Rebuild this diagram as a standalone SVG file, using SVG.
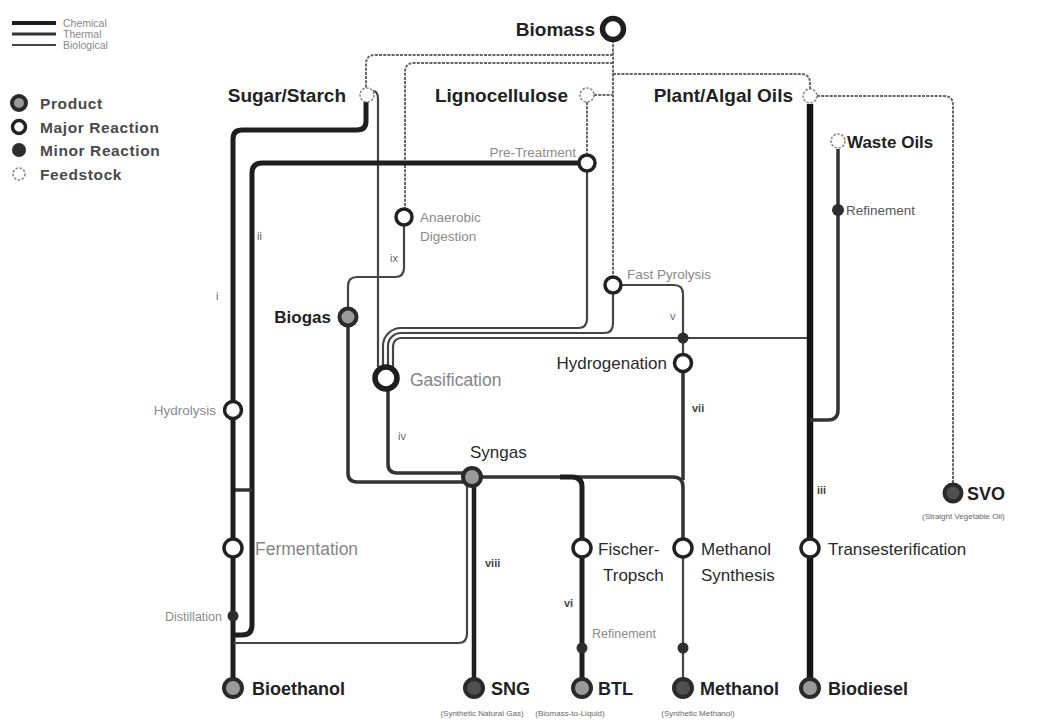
<svg xmlns="http://www.w3.org/2000/svg" width="1042" height="720" viewBox="0 0 1042 720">
  <style>
    text { font-family: "Liberation Sans", Arial, sans-serif; }
    .chem { fill: none; stroke: #1e1e1e; stroke-width: 5; stroke-linecap: butt; }
    .chem-xl { fill: none; stroke: #151515; stroke-width: 6.5; }
    .therm { fill: none; stroke: #333; stroke-width: 3.5; }
    .thin { fill: none; stroke: #444; stroke-width: 2.2; }
    .feed { fill: none; stroke: #666; stroke-width: 2; stroke-dasharray: 3 1.2; }
    .prod { fill: #9a9a9a; stroke: #2a2a2a; stroke-width: 4; }
    .prod-dk { fill: #505050; stroke: #2a2a2a; stroke-width: 4; }
    .major { fill: #fff; stroke: #222; stroke-width: 3.5; }
    .minor { fill: #2e2e2e; }
    .stock { fill: #fff; stroke: #8a8a8a; stroke-width: 1.6; stroke-dasharray: 2.5 1.5; }
    .big { fill: #fff; stroke: #1e1e1e; stroke-width: 5.5; }
    .lbl-b { font-size: 19px; font-weight: bold; fill: #222; }
    .lbl-p { font-size: 18px; font-weight: bold; fill: #222; }
    .rx { font-size: 17px; fill: #2a2a2a; }
    .rx-lt { font-size: 17.5px; fill: #858585; }
    .sm { font-size: 13.5px; fill: #8a8a8a; }
    .sm-dk { font-size: 13.5px; fill: #555; }
    .num { font-size: 11px; fill: #666; }
    .num-b { font-size: 11px; font-weight: bold; fill: #444; }
    .note { font-size: 8px; fill: #666; }
    .leg-line { font-size: 10.5px; fill: #888; }
    .leg { font-size: 15.5px; font-weight: bold; fill: #4a4a4a; letter-spacing: 0.6px; }
  </style>

  <!-- Legend -->
  <g id="legend">
    <line x1="12" y1="23" x2="56" y2="23" stroke="#1e1e1e" stroke-width="4"/>
    <line x1="12" y1="34" x2="56" y2="34" stroke="#333" stroke-width="3"/>
    <line x1="12" y1="45" x2="56" y2="45" stroke="#444" stroke-width="2.2"/>
    <text class="leg-line" x="63" y="27">Chemical</text>
    <text class="leg-line" x="63" y="38">Thermal</text>
    <text class="leg-line" x="63" y="49">Biological</text>
    <circle class="prod" cx="19" cy="103" r="7"/>
    <circle class="major" cx="19" cy="127" r="6.5"/>
    <circle class="minor" cx="19" cy="150" r="7"/>
    <circle class="stock" cx="19" cy="174" r="6"/>
    <text class="leg" x="40" y="109">Product</text>
    <text class="leg" x="40" y="133">Major Reaction</text>
    <text class="leg" x="40" y="156">Minor Reaction</text>
    <text class="leg" x="40" y="180">Feedstock</text>
  </g>

  <!-- Connectors -->
  <g id="connectors">
    <!-- feedstock supply from Biomass -->
    <path class="feed" d="M613 40 V277"/>
    <path class="feed" d="M613 55 H375 Q366 55 366 64 V88"/>
    <path class="feed" d="M613 63 H414 Q405 63 405 72 V209"/>
    <path class="feed" d="M613 74 H801 Q810 74 810 83 V89"/>
    <path class="feed" d="M594 95 H613"/>
    <path class="feed" d="M817 96 H944 Q953 96 953 105 V485"/>
    <path class="feed" d="M587 102 V155"/>

    <!-- Sugar/Starch routes -->
    <path class="chem" d="M366 102 V121 Q366 130 357 130 H242 Q233 130 233 139 V401"/>
    <path class="thin" d="M373 91 Q378 91 378 99 V367"/>

    <!-- Pre-Treatment to fermentation (ii) -->
    <path class="chem" d="M578 163 H262 Q252 163 252 173 V625 Q252 635 242 635 H233"/>
    <path class="therm" d="M233 490 H252"/>

    <!-- Hydrolysis / Fermentation / Distillation to Bioethanol -->
    <path class="chem" d="M233 419 V679"/>

    <!-- lines into Gasification -->
    <path class="thin" d="M587 171 V319 Q587 328 578 328 H401 A18 18 0 0 0 383 346 V367"/>
    <path class="thin" d="M613 293 V324 Q613 333 604 333 H401 A13 13 0 0 0 388 346 V366"/>
    <path class="thin" d="M808 338 H401 A8 8 0 0 0 393 346 V368"/>

    <!-- Fast Pyrolysis to Hydrogenation (v) -->
    <path class="thin" d="M621 285 H674 Q683 285 683 294 V355"/>

    <!-- Anaerobic Digestion to Biogas (ix) -->
    <path class="thin" d="M404 226 V268 Q404 277 395 277 H357 Q348 277 348 286 V308"/>

    <!-- Biogas and Gasification to Syngas -->
    <path class="therm" d="M348 327 V473 Q348 482 357 482 H464"/>
    <path class="therm" d="M388 390 V464 Q388 473 397 473 H464"/>

    <!-- Syngas outputs -->
    <path class="therm" d="M480 477 H673 Q683 477 683 487 V540"/>
    <path class="chem" d="M560 477 H572 Q582 477 582 487 V540"/>
    <path class="therm" d="M683 372 V480"/>
    <path class="chem" d="M474 486 V679" style="stroke-width:4.5"/>
    <path class="thin" d="M467 486 V634 Q467 643 458 643 H233"/>

    <!-- FT / Methanol synthesis to products -->
    <path class="chem" d="M582 556 V679"/>
    <path class="thin" d="M683 556 V679"/>

    <!-- Oils -->
    <path class="chem-xl" d="M810 104 V679"/>
    <path class="therm" d="M838 149 V410 Q838 420 828 420 H810"/>
  </g>

  <!-- Nodes -->
  <g id="biomass">
    <circle class="big" cx="613" cy="29" r="10.5"/>
    <text class="lbl-b" x="595" y="36" text-anchor="end">Biomass</text>
  </g>
  <g id="sugar-starch">
    <circle class="stock" cx="367" cy="95" r="7"/>
    <text class="lbl-b" x="346" y="102" text-anchor="end">Sugar/Starch</text>
  </g>
  <g id="lignocellulose">
    <circle class="stock" cx="587" cy="95" r="7"/>
    <text class="lbl-b" x="568" y="102" text-anchor="end">Lignocellulose</text>
  </g>
  <g id="plant-algal-oils">
    <circle class="stock" cx="810" cy="96" r="7"/>
    <text class="lbl-b" x="793" y="102" text-anchor="end">Plant/Algal Oils</text>
  </g>
  <g id="waste-oils">
    <circle class="stock" cx="838" cy="141" r="7"/>
    <text class="lbl-p" x="847" y="148" style="font-size:17px">Waste Oils</text>
  </g>
  <g id="pre-treatment">
    <circle class="major" cx="587" cy="163" r="8"/>
    <text class="sm" x="576" y="157" text-anchor="end">Pre-Treatment</text>
  </g>
  <g id="refinement-oils">
    <circle class="minor" cx="838" cy="210" r="6"/>
    <text class="sm-dk" x="846" y="215">Refinement</text>
  </g>
  <g id="anaerobic-digestion">
    <circle class="major" cx="404" cy="217" r="8"/>
    <text class="sm" x="420" y="222">Anaerobic</text>
    <text class="sm" x="420" y="241">Digestion</text>
  </g>
  <g id="fast-pyrolysis">
    <circle class="major" cx="613" cy="285" r="8"/>
    <text class="sm" x="627" y="279">Fast Pyrolysis</text>
  </g>
  <g id="biogas">
    <circle class="prod" cx="348" cy="317" r="8.5"/>
    <text class="lbl-p" x="331" y="323" text-anchor="end" style="font-size:17px">Biogas</text>
  </g>
  <g id="upgrading">
    <circle class="minor" cx="683" cy="338" r="5.5"/>
  </g>
  <g id="hydrogenation">
    <circle class="major" cx="683" cy="363" r="8.5"/>
    <text class="rx" x="667" y="369" text-anchor="end">Hydrogenation</text>
  </g>
  <g id="gasification">
    <circle class="big" cx="386" cy="378" r="11"/>
    <text class="rx-lt" x="410" y="386">Gasification</text>
  </g>
  <g id="hydrolysis">
    <circle class="major" cx="233" cy="410" r="8.5"/>
    <text class="sm" x="216" y="415" text-anchor="end">Hydrolysis</text>
  </g>
  <g id="syngas">
    <circle class="prod" cx="472" cy="477" r="9"/>
    <text class="rx" x="470" y="458">Syngas</text>
  </g>
  <g id="svo">
    <circle class="prod-dk" cx="953" cy="493" r="8.5"/>
    <text class="lbl-p" x="967" y="500">SVO</text>
    <text class="note" x="922" y="519">(Straight Vegetable Oil)</text>
  </g>
  <g id="fermentation">
    <circle class="major" cx="233" cy="548" r="9"/>
    <text class="rx-lt" x="255" y="555">Fermentation</text>
  </g>
  <g id="fischer-tropsch">
    <circle class="major" cx="582" cy="548" r="9"/>
    <text class="rx" x="598" y="555">Fischer-</text>
    <text class="rx" x="603" y="581">Tropsch</text>
  </g>
  <g id="methanol-synthesis">
    <circle class="major" cx="683" cy="548" r="9"/>
    <text class="rx" x="701" y="555">Methanol</text>
    <text class="rx" x="701" y="581">Synthesis</text>
  </g>
  <g id="transesterification">
    <circle class="major" cx="810" cy="548" r="9"/>
    <text class="rx" x="828" y="555">Transesterification</text>
  </g>
  <g id="distillation">
    <circle class="minor" cx="233" cy="616" r="5.5"/>
    <text class="sm" x="222" y="621" text-anchor="end" style="font-size:12.5px">Distillation</text>
  </g>
  <g id="refinement-btl">
    <circle class="minor" cx="582" cy="648" r="5.5"/>
    <text class="sm" x="592" y="638" style="font-size:12.5px">Refinement</text>
  </g>
  <g id="refinement-methanol">
    <circle class="minor" cx="683" cy="648" r="5.5"/>
  </g>
  <g id="bioethanol">
    <circle class="prod" cx="233" cy="688" r="9"/>
    <text class="lbl-p" x="252" y="695">Bioethanol</text>
  </g>
  <g id="sng">
    <circle class="prod-dk" cx="474" cy="688" r="9"/>
    <text class="lbl-p" x="491" y="695">SNG</text>
    <text class="note" x="482" y="716" text-anchor="middle">(Synthetic Natural Gas)</text>
  </g>
  <g id="btl">
    <circle class="prod" cx="582" cy="688" r="9"/>
    <text class="lbl-p" x="598" y="695">BTL</text>
    <text class="note" x="570" y="716" text-anchor="middle">(Biomass-to-Liquid)</text>
  </g>
  <g id="methanol">
    <circle class="prod-dk" cx="683" cy="688" r="9"/>
    <text class="lbl-p" x="700" y="695">Methanol</text>
    <text class="note" x="698" y="716" text-anchor="middle">(Synthetic Methanol)</text>
  </g>
  <g id="biodiesel">
    <circle class="prod" cx="810" cy="688" r="9"/>
    <text class="lbl-p" x="828" y="695">Biodiesel</text>
  </g>

  <!-- route numerals -->
  <g id="route-labels">
    <text class="num" x="216" y="300">i</text>
    <text class="num" x="257" y="240">ii</text>
    <text class="num-b" x="817" y="494">iii</text>
    <text class="num" x="398" y="440">iv</text>
    <text class="num" x="670" y="320">v</text>
    <text class="num-b" x="564" y="607">vi</text>
    <text class="num-b" x="692" y="412">vii</text>
    <text class="num-b" x="485" y="567">viii</text>
    <text class="num" x="390" y="262">ix</text>
  </g>
</svg>
